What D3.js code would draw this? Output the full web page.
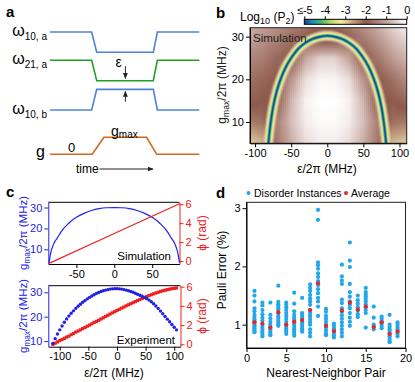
<!DOCTYPE html>
<html>
<head>
<meta charset="utf-8">
<script src="https://cdn.jsdelivr.net/npm/d3@7"></script>
<style>
  body { margin: 0; background: #fff; }
  svg { font-family: "Liberation Sans", Arial, sans-serif; }
  .tick text { font-size: 11px; }
</style>
</head>
<body>
<svg id="fig" width="415" height="382"></svg>
<script>
// ---- panel a : pulse schematic (time 0..1, level 0..100) ----
const pulseT = [0, 0.279, 0.313, 0.692, 0.719, 1];
const w10aLevel = [100, 100, 83.4, 83.4, 100, 100];
const w21aLevel = [76.9, 76.9, 60.2, 60.2, 76.9, 76.9];
const w10bLevel = [36.2, 36.2, 53.1, 53.1, 36.2, 36.2];
const gPulseT = [0, 0.283, 0.361, 0.647, 0.715, 1];
const gLevel = [0, 0, 13.9, 13.9, 0, 0];

// ---- panel b : simulated leakage map ----
const mapEps = [-107, -90, -70, -50, -30, -10, 10, 30, 50, 70, 90, 110];
const mapG = [5, 10, 15, 20, 25, 30, 32.2];
const mapLogP2 = [
  [-3.0, -2.8, -1.6, -0.9, -0.4, -0.2, -0.2, -0.4, -0.9, -1.6, -2.8, -3.0],
  [-2.3, -2.2, -1.5, -0.7, -0.2, -0.05, -0.05, -0.2, -0.7, -1.5, -2.2, -2.3],
  [-1.9, -2.0, -2.0, -0.8, -0.15, 0, 0, -0.15, -0.8, -2.0, -2.0, -1.8],
  [-1.7, -1.8, -2.0, -1.2, -0.35, -0.1, -0.1, -0.35, -1.2, -2.0, -1.7, -1.3],
  [-1.4, -1.5, -1.8, -2.0, -1.0, -0.5, -0.5, -1.0, -2.0, -1.6, -1.1, -0.8],
  [-1.0, -1.2, -1.4, -1.7, -1.9, -2.4, -2.4, -1.9, -1.5, -1.1, -0.7, -0.4],
  [-0.9, -1.1, -1.3, -1.5, -1.7, -1.9, -1.9, -1.6, -1.3, -0.9, -0.5, -0.2]
];
const ridgeEps = [-81.5, -79, -75, -70, -64, -57, -50, -40, -30, -20, -10, 0, 10, 20, 30, 40, 50, 57, 64, 70, 75, 79, 81.5];
const ridgeG = [5, 9, 13.5, 17.2, 20.3, 23, 25, 27.2, 28.6, 29.5, 30.0, 30.2, 30.0, 29.5, 28.6, 27.2, 25, 23, 20.3, 17.2, 13.5, 9, 5];
const cmapVals = [-5, -4.6, -4.2, -3.7, -3.2, -2.7, -2, -1, 0];
const cmapColors = ["#1c3f9e", "#1b8fb0", "#3fb56a", "#b8d86a", "#f3eca0", "#c9a98a", "#8d5a4b", "#c4a39b", "#ffffff"];
const cbarTicks = [-5, -4, -3, -2, -1, 0];

// ---- panel c : simulation ----
const simEps = [-86, -84, -80, -75, -70, -60, -50, -40, -30, -20, -10, 0, 10, 20, 30, 40, 50, 60, 70, 75, 80, 84, 86];
const simG = [3.5, 8, 12.5, 15.5, 18.5, 22.5, 25.3, 27.2, 28.6, 29.5, 29.9, 30, 29.9, 29.5, 28.6, 27.2, 25.3, 22.5, 18.5, 15.5, 12.5, 8, 3.5];
const simPhiEps = [-86, 0, 86];
const simPhi = [-0.25, 2.9, 6.05];

// ---- panel c : experiment ----
const expEps = [-112, -108, -104, -100, -96, -92, -88, -84, -80, -76, -72, -68, -64, -60, -56, -52, -48, -44, -40, -36,
  -32, -28, -24, -20, -16, -12, -8, -4, 0, 4, 8, 12, 16, 20, 24, 28, 32, 36, 40, 44,
  48, 52, 56, 60, 64, 68, 72, 76, 80, 84, 88, 92, 96, 100, 104];
const expG = [9.0, 11.0, 12.9, 14.6, 16.2, 17.7, 19.1, 20.3, 21.4, 22.4, 23.4, 24.3, 25.1, 25.9, 26.6, 27.3, 27.9, 28.5, 29.0, 29.5,
  29.9, 30.3, 30.6, 30.9, 31.1, 31.3, 31.4, 31.5, 31.5, 31.4, 31.3, 31.1, 30.9, 30.6, 30.3, 30.0, 29.6, 29.2, 28.8, 28.4,
  27.9, 27.4, 26.8, 26.1, 25.3, 24.4, 23.4, 22.3, 21.2, 20.1, 19.0, 17.9, 16.8, 15.7, 14.6];
const expPhi = [0.0, 0.12, 0.25, 0.4, 0.5, 0.62, 0.75, 0.85, 1.0, 1.12, 1.27, 1.38, 1.5, 1.63, 1.75, 1.88, 2.0, 2.13, 2.28, 2.38,
  2.5, 2.63, 2.76, 2.9, 3.02, 3.15, 3.28, 3.4, 3.52, 3.64, 3.76, 3.88, 4.0, 4.12, 4.22, 4.33, 4.44, 4.55, 4.66, 4.77,
  4.87, 4.97, 5.07, 5.16, 5.25, 5.34, 5.42, 5.5, 5.57, 5.63, 5.69, 5.74, 5.79, 5.83, 5.86];

// ---- panel d : Pauli error per nearest-neighbour pair ----
const pairs = [1, 2, 3, 4, 5, 6, 7, 8, 9, 10, 11, 12, 13, 14, 15, 16, 17, 18, 19];
const pairAvg = [1.04, 1.02, 0.95, 1.21, 1.0, 1.05, 1.08, 1.25, 1.71, 0.98, 0.89, 1.24, 1.38, 1.26, 1.31, 0.96, 1.04, 0.84, 0.88];
const pairErr = [
  [1.58, 1.50, 1.40, 1.28, 1.23, 1.17, 1.13, 1.09, 1.06, 1.03, 1.0, 0.97, 0.94, 0.91, 0.88, 0.87],
  [1.38, 1.33, 1.25, 1.18, 1.12, 1.07, 1.0, 0.96, 0.92, 0.88, 0.84, 0.8],
  [1.38, 1.17, 1.11, 1.05, 1.0, 0.96, 0.92, 0.88, 0.84, 0.82],
  [1.67, 1.39, 1.35, 1.32, 1.28, 1.25, 1.2, 1.15, 1.12, 1.08, 1.04, 1.0, 0.98],
  [1.38, 1.34, 1.3, 1.25, 1.2, 1.15, 1.1, 1.05, 1.0, 0.96, 0.92, 0.88, 0.84],
  [1.55, 1.36, 1.23, 1.17, 1.12, 1.08, 1.04, 1.0, 0.96, 0.92, 0.88, 0.84, 0.81],
  [1.46, 1.2, 1.17, 1.13, 1.1, 1.06, 1.02, 0.98, 0.94, 0.9, 0.88],
  [1.69, 1.63, 1.58, 1.51, 1.45, 1.4, 1.34, 1.25, 1.2, 1.15, 1.1, 1.05, 1.0, 0.92, 0.86, 0.8],
  [2.97, 2.8, 2.07, 2.02, 1.96, 1.88, 1.82, 1.75, 1.68, 1.61, 1.54, 1.46, 1.4, 1.31, 1.15],
  [1.27, 1.22, 1.15, 1.1, 1.05, 1.0, 0.95, 0.9, 0.85, 0.82],
  [1.02, 0.98, 0.94, 0.9, 0.86, 0.82, 0.78],
  [2.03, 1.83, 1.76, 1.7, 1.43, 1.37, 1.28, 1.22, 1.16, 1.1, 1.04, 0.98, 0.92, 0.86, 0.8],
  [2.41, 2.1, 1.99, 1.7, 1.56, 1.48, 1.4, 1.34, 1.28, 1.2, 1.12, 1.05, 0.98],
  [1.5, 1.42, 1.36, 1.3, 1.24, 1.18, 1.13],
  [1.63, 1.56, 1.52, 1.48, 1.44, 1.4, 1.35, 1.3, 1.25, 1.2, 0.95],
  [1.31, 1.12, 1.0, 0.96, 0.92],
  [1.14, 1.1, 1.06, 1.02, 0.98, 0.94],
  [1.17, 1.0, 0.96, 0.92, 0.88, 0.84, 0.8, 0.76, 0.72, 0.7],
  [1.04, 1.0, 0.96, 0.92, 0.88, 0.84, 0.8]
];

const svg = d3.select('#fig');
const BLUE_A = '#4f82d6', GREEN_A = '#22a022', ORANGE_A = '#d2691e';
const C_BLUE = '#2222e6', C_RED = '#f02020';
const D_BLUE = '#22a7e9', D_RED = '#e8232a';
const plain = d => String(d);

function panelLabel(t, x, y) {
  svg.append('text').attr('x', x).attr('y', y).attr('font-size', 15)
    .attr('font-weight', 'bold').text(t);
}
function styleAxis(g, color) {
  g.selectAll('path, line').attr('stroke', color || '#000');
  g.selectAll('text').attr('fill', color || '#000').attr('font-size', 11);
}
function gmaxLabel(x, y, color, size) {
  const t = svg.append('text').attr('transform', `translate(${x},${y}) rotate(-90)`)
    .attr('text-anchor', 'middle').attr('font-size', size).attr('fill', color);
  t.append('tspan').text('g');
  t.append('tspan').attr('font-size', size * 0.72).attr('dy', 3).text('max');
  t.append('tspan').attr('dy', -3).text('/2π (MHz)');
}

// ================= panel a =================
panelLabel('a', 6, 17);
const ax = d3.scaleLinear().domain([0, 1]).range([50, 199.3]);
const ay = d3.scaleLinear().domain([0, 100]).range([154.3, 32]);
const pulse = d3.line().x(d => ax(d[0])).y(d => ay(d[1]));
const traces = [
  [pulseT, w10aLevel, BLUE_A],
  [pulseT, w21aLevel, GREEN_A],
  [pulseT, w10bLevel, BLUE_A],
  [gPulseT, gLevel, ORANGE_A]
];
traces.forEach(([t, lv, c]) => {
  svg.append('path').datum(d3.zip(t, lv)).attr('d', pulse)
    .attr('fill', 'none').attr('stroke', c).attr('stroke-width', 1.6);
});
function omegaLabel(sub, y) {
  const t = svg.append('text').attr('x', 47).attr('y', y).attr('text-anchor', 'end').attr('font-size', 16);
  t.append('tspan').text('ω');
  t.append('tspan').attr('font-size', 10).attr('dy', 4).text(sub);
}
omegaLabel('10, a', 35.5);
omegaLabel('21, a', 64);
omegaLabel('10, b', 114);
svg.append('text').attr('x', 45).attr('y', 157).attr('text-anchor', 'end').attr('font-size', 16).text('g');
svg.append('text').attr('x', 71.7).attr('y', 151.5).attr('text-anchor', 'middle').attr('font-size', 13).text('0');
const gm = svg.append('text').attr('x', 111).attr('y', 136).attr('font-size', 14);
gm.append('tspan').text('g');
gm.append('tspan').attr('font-size', 10).attr('dy', 2).text('max');
svg.append('text').attr('x', 118.5).attr('y', 66.5).attr('text-anchor', 'middle').attr('font-size', 14).text('ε');

const defs = svg.append('defs');
defs.append('marker').attr('id', 'ah').attr('viewBox', '0 0 10 10').attr('refX', 9).attr('refY', 5)
  .attr('markerWidth', 6).attr('markerHeight', 6).attr('orient', 'auto-start-reverse')
  .append('path').attr('d', 'M0,1 L10,5 L0,9 z').attr('fill', '#222');
const arrowX = ax(0.505);
svg.append('line').attr('x1', arrowX).attr('x2', arrowX).attr('y1', ay(72)).attr('y2', ay(62))
  .attr('stroke', '#222').attr('stroke-width', 1).attr('marker-end', 'url(#ah)');
svg.append('line').attr('x1', arrowX).attr('x2', arrowX).attr('y1', ay(43)).attr('y2', ay(51.5))
  .attr('stroke', '#222').attr('stroke-width', 1).attr('marker-end', 'url(#ah)');
svg.append('text').attr('x', 76).attr('y', 172.5).attr('font-size', 12).text('time');
svg.append('line').attr('x1', 99.5).attr('x2', 153).attr('y1', 169).attr('y2', 169)
  .attr('stroke', '#222').attr('stroke-width', 1).attr('marker-end', 'url(#ah)');

// ================= panel b =================
panelLabel('b', 216, 18);
const bx = d3.scaleLinear().domain([-107, 110]).range([250, 406.7]);
const by = d3.scaleLinear().domain([5, 32.1]).range([143.3, 27.7]);
const cmap = d3.scaleLinear().domain(cmapVals).range(cmapColors).clamp(true);

function bilinear(e, g) {
  let i = Math.min(Math.max(d3.bisectRight(mapEps, e) - 1, 0), mapEps.length - 2);
  let j = Math.min(Math.max(d3.bisectRight(mapG, g) - 1, 0), mapG.length - 2);
  const te = Math.max(0, Math.min(1, (e - mapEps[i]) / (mapEps[i + 1] - mapEps[i])));
  const tg = Math.max(0, Math.min(1, (g - mapG[j]) / (mapG[j + 1] - mapG[j])));
  const v00 = mapLogP2[j][i], v10 = mapLogP2[j][i + 1], v01 = mapLogP2[j + 1][i], v11 = mapLogP2[j + 1][i + 1];
  return (v00 * (1 - te) + v10 * te) * (1 - tg) + (v01 * (1 - te) + v11 * te) * tg;
}
const cells = [];
const step = 2;
for (let px = bx.range()[0]; px < bx.range()[1]; px += step) {
  for (let py = by.range()[1]; py < by.range()[0]; py += step) {
    cells.push({ px, py, v: bilinear(bx.invert(px + step / 2), by.invert(py + step / 2)) });
  }
}
defs.append('clipPath').attr('id', 'bclip').append('rect')
  .attr('x', 250).attr('y', 27.7).attr('width', 156.7).attr('height', 115.6);
const heat = svg.append('g').attr('clip-path', 'url(#bclip)');
heat.selectAll('rect').data(cells).join('rect')
  .attr('x', d => d.px).attr('y', d => d.py).attr('width', step + 0.3).attr('height', step + 0.3)
  .attr('fill', d => cmap(d.v));

const blur = defs.append('filter').attr('id', 'blur').attr('x', '-20%').attr('y', '-20%').attr('width', '140%').attr('height', '140%');
blur.append('feGaussianBlur').attr('stdDeviation', 1.0);
const ridgeLine = d3.line().x(d => bx(d[0])).y(d => by(d[1])).curve(d3.curveCatmullRom);
const ridgeData = d3.zip(ridgeEps, ridgeG);
[[9.5, '#d9c3a2', true], [7, cmap(-3.2), true], [4.2, cmap(-3.75), false], [3, cmap(-4.2), false], [2, cmap(-4.6), false], [1.1, cmap(-5), false]]
  .forEach(([w, c, b]) => {
    heat.append('path').datum(ridgeData).attr('d', ridgeLine).attr('fill', 'none')
      .attr('stroke', c).attr('stroke-width', w).attr('filter', b ? 'url(#blur)' : null);
  });
svg.append('rect').attr('x', 250).attr('y', 27.7).attr('width', 156.7).attr('height', 115.6)
  .attr('fill', 'none').attr('stroke', '#222').attr('stroke-width', 1);
styleAxis(svg.append('g').attr('transform', 'translate(0,143.3)')
  .call(d3.axisBottom(bx).tickValues([-100, -50, 0, 50, 100]).tickFormat(plain).tickSize(4).tickSizeOuter(0).tickPadding(2)));
styleAxis(svg.append('g').attr('transform', 'translate(250,0)')
  .call(d3.axisLeft(by).tickValues([10, 20, 30]).tickFormat(plain).tickSize(4).tickSizeOuter(0).tickPadding(2)));
svg.append('text').attr('x', 253).attr('y', 42).attr('font-size', 11.5).attr('fill', '#222').text('Simulation');
svg.append('text').attr('x', 327).attr('y', 172.5).attr('text-anchor', 'middle').attr('font-size', 12).text('ε/2π (MHz)');
gmaxLabel(226, 85, '#222', 12);

// colorbar
const cb = d3.scaleLinear().domain([-5, 0]).range([304.3, 406.7]);
const grad = defs.append('linearGradient').attr('id', 'cbar');
cmapVals.forEach((v, i) => grad.append('stop').attr('offset', (v + 5) / 5).attr('stop-color', cmapColors[i]));
svg.append('rect').attr('x', 304.3).attr('y', 19.3).attr('width', 102.4).attr('height', 5)
  .attr('fill', 'url(#cbar)').attr('stroke', '#000').attr('stroke-width', 1);
const cbAxis = svg.append('g').attr('transform', 'translate(0,19.3)')
  .call(d3.axisTop(cb).tickValues(cbarTicks).tickSize(3).tickSizeOuter(0).tickPadding(2)
    .tickFormat(d => d === -5 ? '≤-5' : String(d)));
styleAxis(cbAxis);
cbAxis.select('.domain').remove();
const lg = svg.append('text').attr('x', 240).attr('y', 20.5).attr('font-size', 12);
lg.append('tspan').text('Log');
lg.append('tspan').attr('font-size', 9).attr('dy', 3).text('10');
lg.append('tspan').attr('dy', -3).text(' (P');
lg.append('tspan').attr('font-size', 9).attr('dy', 3).text('2');
lg.append('tspan').attr('dy', -3).text(')');

// ================= panel c =================
panelLabel('c', 6, 197);
function cFrame(x, yL, yR, y0, y1, ticksX) {
  svg.append('line').attr('x1', x.range()[0]).attr('x2', x.range()[1]).attr('y1', y0).attr('y2', y0).attr('stroke', '#000');
  styleAxis(svg.append('g').attr('transform', `translate(0,${y1})`)
    .call(d3.axisBottom(x).tickValues(ticksX).tickFormat(plain).tickSize(4).tickSizeOuter(0).tickPadding(2)));
  styleAxis(svg.append('g').attr('transform', `translate(${x.range()[0]},0)`)
    .call(d3.axisLeft(yL).tickValues([10, 20, 30]).tickFormat(plain).tickSize(4).tickSizeOuter(0).tickPadding(2)), C_BLUE);
  styleAxis(svg.append('g').attr('transform', `translate(${x.range()[1]},0)`)
    .call(d3.axisRight(yR).tickValues([0, 2, 4, 6]).tickFormat(plain).tickSize(4).tickSizeOuter(0).tickPadding(2)), C_RED);
}
// top: simulation
const cxT = d3.scaleLinear().domain([-87, 86]).range([48.3, 179.5]);
const cyTL = d3.scaleLinear().domain([3, 32.5]).range([264, 202.3]);
const cyTR = d3.scaleLinear().domain([-0.32, 6.2]).range([264, 202.3]);
cFrame(cxT, cyTL, cyTR, 202.3, 264, [-50, 0, 50]);
svg.append('path').datum(d3.zip(simEps, simG))
  .attr('d', d3.line().x(d => cxT(d[0])).y(d => cyTL(d[1])).curve(d3.curveMonotoneX))
  .attr('fill', 'none').attr('stroke', C_BLUE).attr('stroke-width', 1.2);
svg.append('path').datum(d3.zip(simPhiEps, simPhi))
  .attr('d', d3.line().x(d => cxT(d[0])).y(d => cyTR(d[1])))
  .attr('fill', 'none').attr('stroke', C_RED).attr('stroke-width', 1.2);
svg.append('text').attr('x', 171).attr('y', 260).attr('text-anchor', 'end').attr('font-size', 11.5).text('Simulation');

// bottom: experiment
const cxB = d3.scaleLinear().domain([-120, 111]).range([48.3, 180.5]);
const cyBL = d3.scaleLinear().domain([7.7, 32.7]).range([346.7, 285.7]);
const cyBR = d3.scaleLinear().domain([-0.25, 6.1]).range([346.7, 285.7]);
cFrame(cxB, cyBL, cyBR, 285.7, 346.7, [-100, -50, 0, 50, 100]);
const expData = d3.zip(expEps, expG, expPhi);
svg.append('g').selectAll('rect').data(expData).join('rect')
  .attr('x', d => cxB(d[0]) - 1.6).attr('y', d => cyBR(d[2]) - 1.6)
  .attr('width', 3.2).attr('height', 3.2).attr('fill', C_RED);
svg.append('g').selectAll('circle').data(expData).join('circle')
  .attr('cx', d => cxB(d[0])).attr('cy', d => cyBL(d[1])).attr('r', 1.7).attr('fill', C_BLUE);
svg.append('text').attr('x', 175).attr('y', 344).attr('text-anchor', 'end').attr('font-size', 11.5).text('Experiment');
svg.append('text').attr('x', 114).attr('y', 377).attr('text-anchor', 'middle').attr('font-size', 12).text('ε/2π (MHz)');
gmaxLabel(27, 233, C_BLUE, 11.5);
gmaxLabel(27, 316, C_BLUE, 11.5);
[233, 316].forEach(y => svg.append('text').attr('transform', `translate(206,${y}) rotate(-90)`)
  .attr('text-anchor', 'middle').attr('font-size', 12).attr('fill', C_RED).text('ϕ (rad)'));

// ================= panel d =================
panelLabel('d', 216, 198);
const dx = d3.scaleLinear().domain([0, 20]).range([246.5, 405.5]);
const dy = d3.scaleLinear().domain([0.6, 3.1]).range([348, 202.3]);
svg.append('rect').attr('x', 246.5).attr('y', 202.3).attr('width', 159).attr('height', 145.7)
  .attr('fill', 'none').attr('stroke', '#222');
styleAxis(svg.append('g').attr('transform', 'translate(0,348)')
  .call(d3.axisBottom(dx).tickValues([0, 5, 10, 15, 20]).tickFormat(plain).tickSize(4).tickSizeOuter(0).tickPadding(2)));
styleAxis(svg.append('g').attr('transform', 'translate(246.5,0)')
  .call(d3.axisLeft(dy).tickValues([1, 2, 3]).tickFormat(plain).tickSize(4).tickSizeOuter(0).tickPadding(2)));
const instances = pairs.flatMap((p, i) => pairErr[i].map(v => [p, v]));
svg.append('g').selectAll('circle').data(instances).join('circle')
  .attr('cx', d => dx(d[0])).attr('cy', d => dy(d[1])).attr('r', 2.1).attr('fill', D_BLUE);
svg.append('g').selectAll('circle').data(d3.zip(pairs, pairAvg)).join('circle')
  .attr('cx', d => dx(d[0])).attr('cy', d => dy(d[1])).attr('r', 2.1).attr('fill', D_RED);
svg.append('text').attr('transform', 'translate(226,270) rotate(-90)').attr('text-anchor', 'middle')
  .attr('font-size', 12).text('Pauli Error (%)');
svg.append('text').attr('x', 326).attr('y', 377).attr('text-anchor', 'middle').attr('font-size', 12).text('Nearest-Neighbor Pair');
svg.append('circle').attr('cx', 248.5).attr('cy', 193).attr('r', 2).attr('fill', D_BLUE);
svg.append('text').attr('x', 254).attr('y', 197).attr('font-size', 10.5).text('Disorder Instances');
svg.append('circle').attr('cx', 346).attr('cy', 193).attr('r', 2).attr('fill', D_RED);
svg.append('text').attr('x', 351).attr('y', 197).attr('font-size', 10.5).text('Average');
</script>
</body>
</html>
